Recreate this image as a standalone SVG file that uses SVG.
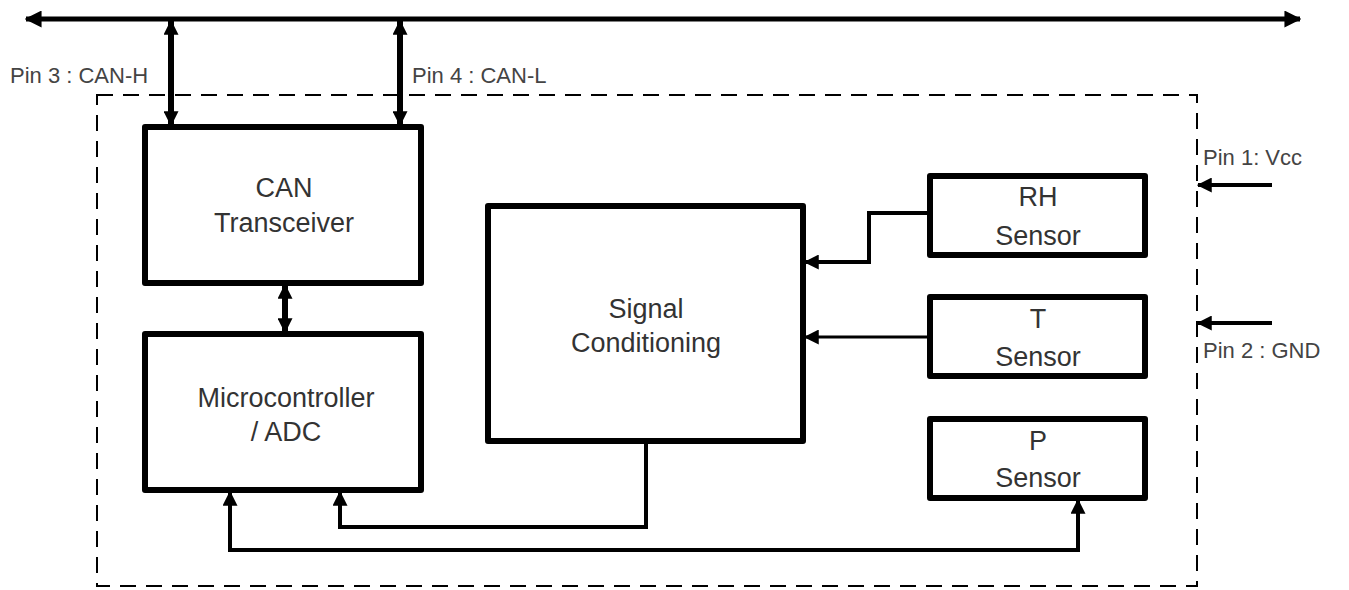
<svg xmlns="http://www.w3.org/2000/svg" width="1349" height="590" viewBox="0 0 1349 590">
<style>
.box{fill:#fff;stroke:#000;stroke-width:6;stroke-linejoin:round}
.lbl{font-family:"Liberation Sans",Arial,sans-serif;font-size:27px;fill:#333;text-anchor:middle}
.pin{font-family:"Liberation Sans",Arial,sans-serif;font-size:22px;fill:#444}
.w{fill:none;stroke:#000;stroke-linejoin:miter}
</style>
<defs>
<marker id="ah" viewBox="0 0 12 12" refX="11" refY="6" markerWidth="15" markerHeight="15" markerUnits="userSpaceOnUse" orient="auto-start-reverse">
<path d="M0,0 L12,6 L0,12 z" fill="#000"/>
</marker>
<marker id="ahb" viewBox="0 0 12 12" refX="11" refY="6" markerWidth="17" markerHeight="17" markerUnits="userSpaceOnUse" orient="auto-start-reverse">
<path d="M0,0 L12,6 L0,12 z" fill="#000"/>
</marker>
</defs>
<rect id="boundary" x="97" y="95" width="1100" height="491" fill="none" stroke="#000" stroke-width="2" stroke-dasharray="16,10"/>
<g id="connectors">
<line class="w" x1="26" y1="19" x2="1300" y2="19" stroke-width="5" marker-start="url(#ahb)" marker-end="url(#ahb)"/>
<line class="w" x1="171" y1="21" x2="171" y2="125" stroke-width="6" marker-start="url(#ah)" marker-end="url(#ah)"/>
<line class="w" x1="400" y1="21" x2="400" y2="125" stroke-width="6" marker-start="url(#ah)" marker-end="url(#ah)"/>
<line class="w" x1="285" y1="285" x2="285" y2="332" stroke-width="6" marker-start="url(#ah)" marker-end="url(#ah)"/>
<polyline class="w" points="930,213 869,213 869,262 805,262" stroke-width="4" marker-end="url(#ah)"/>
<line class="w" x1="930" y1="337" x2="805" y2="337" stroke-width="3" marker-end="url(#ah)"/>
<polyline class="w" points="646,443 646,527 340,527 340,492" stroke-width="4" marker-end="url(#ah)"/>
<polyline class="w" points="230,492 230,550 1078,550 1078,500" stroke-width="4" marker-start="url(#ah)" marker-end="url(#ah)"/>
<line class="w" x1="1272" y1="185" x2="1198" y2="185" stroke-width="4" marker-end="url(#ah)"/>
<line class="w" x1="1272" y1="323" x2="1198" y2="323" stroke-width="4" marker-end="url(#ah)"/>
</g>
<g id="pin3"><text class="pin" x="10" y="83">Pin 3 : CAN-H</text></g>
<g id="pin4"><text class="pin" x="412" y="83">Pin 4 : CAN-L</text></g>
<g id="pin1"><text class="pin" x="1203" y="165">Pin 1: Vcc</text></g>
<g id="pin2"><text class="pin" x="1203" y="358">Pin 2 : GND</text></g>
<g id="can"><rect class="box" x="145" y="127" width="276" height="156"/><text class="lbl" x="284" y="197">CAN</text><text class="lbl" x="284" y="232">Transceiver</text></g>
<g id="mcu"><rect class="box" x="145" y="334" width="276" height="156"/><text class="lbl" x="286" y="407">Microcontroller</text><text class="lbl" x="286" y="441">/ ADC</text></g>
<g id="sc"><rect class="box" x="488" y="206" width="315" height="235"/><text class="lbl" x="646" y="318">Signal</text><text class="lbl" x="646" y="352">Conditioning</text></g>
<g id="rh"><rect class="box" x="930" y="176" width="215" height="79"/><text class="lbl" x="1038" y="206">RH</text><text class="lbl" x="1038" y="245">Sensor</text></g>
<g id="t"><rect class="box" x="930" y="297" width="215" height="79"/><text class="lbl" x="1038" y="328">T</text><text class="lbl" x="1038" y="366">Sensor</text></g>
<g id="p"><rect class="box" x="930" y="419" width="215" height="79"/><text class="lbl" x="1038" y="450">P</text><text class="lbl" x="1038" y="487">Sensor</text></g>
</svg>
